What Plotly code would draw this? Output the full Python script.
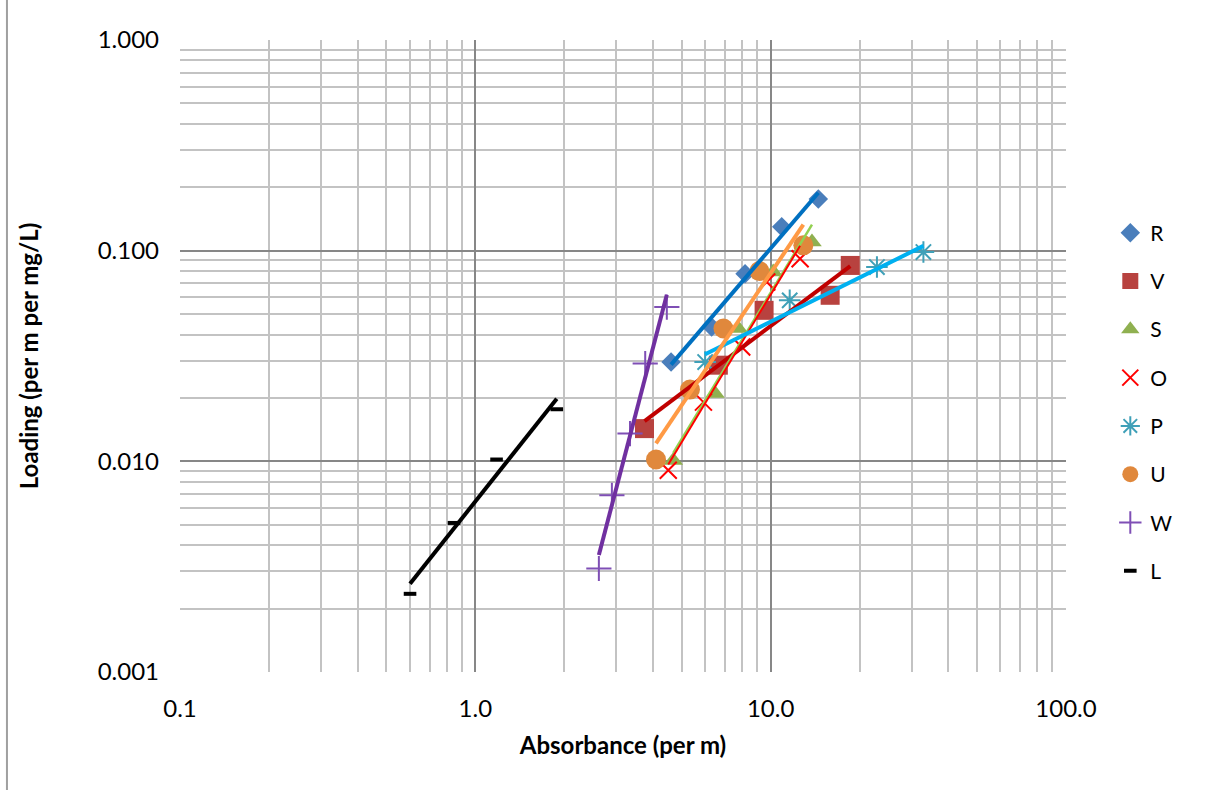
import numpy as np
import plotly.graph_objects as go

# ---- data ----
R_x = [4.60, 6.31, 8.19, 10.9, 14.5]
R_y = [0.0296, 0.0434, 0.0778, 0.130, 0.176]
V_x = [3.74, 6.65, 9.50, 15.9, 18.6]
V_y = [0.0143, 0.0286, 0.0521, 0.0614, 0.0851]
S_x = [4.68, 6.48, 7.77, 10.2, 13.8]
S_y = [0.0101, 0.0210, 0.0427, 0.0792, 0.110]
O_x = [4.50, 5.92, 7.98, 9.70, 12.58]
O_y = [0.00907, 0.0191, 0.0349, 0.0710, 0.0916]
P_x = [6.00, 11.6, 22.9, 32.9]
P_y = [0.0296, 0.0581, 0.0836, 0.0985]
U_x = [4.09, 5.33, 6.92, 9.16, 12.9]
U_y = [0.0102, 0.0219, 0.0427, 0.080, 0.106]
W_x = [2.62, 2.90, 3.34, 3.76, 4.45]
W_y = [0.0031, 0.0069, 0.01355, 0.0291, 0.054]
L_x = [0.601, 0.847, 1.18, 1.887]
L_y = [0.00235, 0.0051, 0.0102, 0.01767]

x_tickvals = [0.1, 1, 10, 100]
x_ticktext = ["0.1", "1.0", "10.0", "100.0"]
y_tickvals = [0.001, 0.01, 0.1, 1]
y_ticktext = ["0.001", "0.010", "0.100", "1.000"]

FONT = "Lato, 'Noto Sans', sans-serif"

series = [
    # name, x, y, marker dict, trend colour, trend width
    ("R", R_x, R_y, dict(symbol="diamond", size=15, color="#4A7EBB"), "#0070C0", 4),
    ("V", V_x, V_y, dict(symbol="square", size=19, color="#B8423F"), "#C00000", 4),
    ("S", S_x, S_y, dict(symbol="triangle-up", size=17, color="#8FB050"), "#92D050", 2.5),
    ("O", O_x, O_y, dict(symbol="x-thin-open", size=17, color="#FF0000",
                         line=dict(color="#FF0000", width=2)), "#FF0000", 2),
    ("P", P_x, P_y, dict(symbol="asterisk-open", size=18, color="#3FA0B8",
                         line=dict(color="#3FA0B8", width=2)), "#00B0F0", 4),
    ("U", U_x, U_y, dict(symbol="circle", size=20, color="#E0883C"), "#FF9A45", 4),
    ("W", W_x, W_y, dict(symbol="cross-thin-open", size=18, color="#7F4FB5",
                         line=dict(color="#7F4FB5", width=2)), "#7030A0", 4),
    ("L", L_x, L_y, dict(symbol="line-ew-open", size=9, color="#000000",
                         line=dict(color="#000000", width=4)), "#000000", 4),
]

fig = go.Figure()

for i, (name, xs, ys, mk, lc, lw) in enumerate(series):
    fig.add_trace(go.Scatter(x=xs, y=ys, mode="markers", name=name, marker=mk,
                             legendgroup=name, showlegend=True))

# power-law trendlines (least squares in log space), spanning the data range
for name, xs, ys, mk, lc, lw in series:
    lx = np.log10(xs)
    ly = np.log10(ys)
    b, a = np.polyfit(lx, ly, 1)
    xe = np.array([min(xs), max(xs)])
    ye = 10 ** (a + b * np.log10(xe))
    fig.add_trace(go.Scatter(x=xe, y=ye, mode="lines", line=dict(color=lc, width=lw),
                             showlegend=False, hoverinfo="skip"))

minor_x = [m * 10.0 ** e for e in (-1, 0, 1) for m in range(2, 10)]
minor_y = [m * 10.0 ** e for e in (-3, -2, -1) for m in range(2, 10)]

fig.update_xaxes(
    type="log", range=[-1, 2], tickvals=x_tickvals, ticktext=x_ticktext,
    showgrid=True, gridcolor="#878787", gridwidth=2,
    minor=dict(tickvals=minor_x, showgrid=True, gridcolor="#C3C3C3", gridwidth=2, ticks=""),
    zeroline=False, showline=False, ticks="", ticklabelstandoff=20,
    tickfont=dict(family=FONT, size=24, color="#000"),
    title=dict(text="<b>Absorbance (per m)</b>", font=dict(family=FONT, size=24, color="#000"),
               standoff=16),
)
fig.update_yaxes(
    type="log", range=[-3, 0], tickvals=y_tickvals, ticktext=y_ticktext,
    showgrid=True, gridcolor="#878787", gridwidth=2,
    minor=dict(tickvals=minor_y, showgrid=True, gridcolor="#C3C3C3", gridwidth=2, ticks=""),
    zeroline=False, showline=False, ticks="", ticklabelstandoff=20,
    tickfont=dict(family=FONT, size=24, color="#000"),
    title=dict(text="<b>Loading (per m per mg/L)</b>", font=dict(family=FONT, size=24, color="#000"),
               standoff=52),
)

fig.add_shape(type="line", xref="paper", yref="paper", x0=-0.1953, x1=-0.1953,
              y0=-0.19, y1=1.07, line=dict(color="#A0A0A0", width=2))

fig.update_layout(
    width=1209, height=790,
    margin=dict(l=180, r=143, t=40, b=118),
    paper_bgcolor="white", plot_bgcolor="white",
    font=dict(family=FONT, size=17, color="#000"),
    legend=dict(x=1.05, y=0.727, xanchor="left", yanchor="top",
                tracegroupgap=18,
                font=dict(family=FONT, size=21, color="#000"),
                bgcolor="rgba(0,0,0,0)"),
    showlegend=True,
)

fig.write_html("out.html")
